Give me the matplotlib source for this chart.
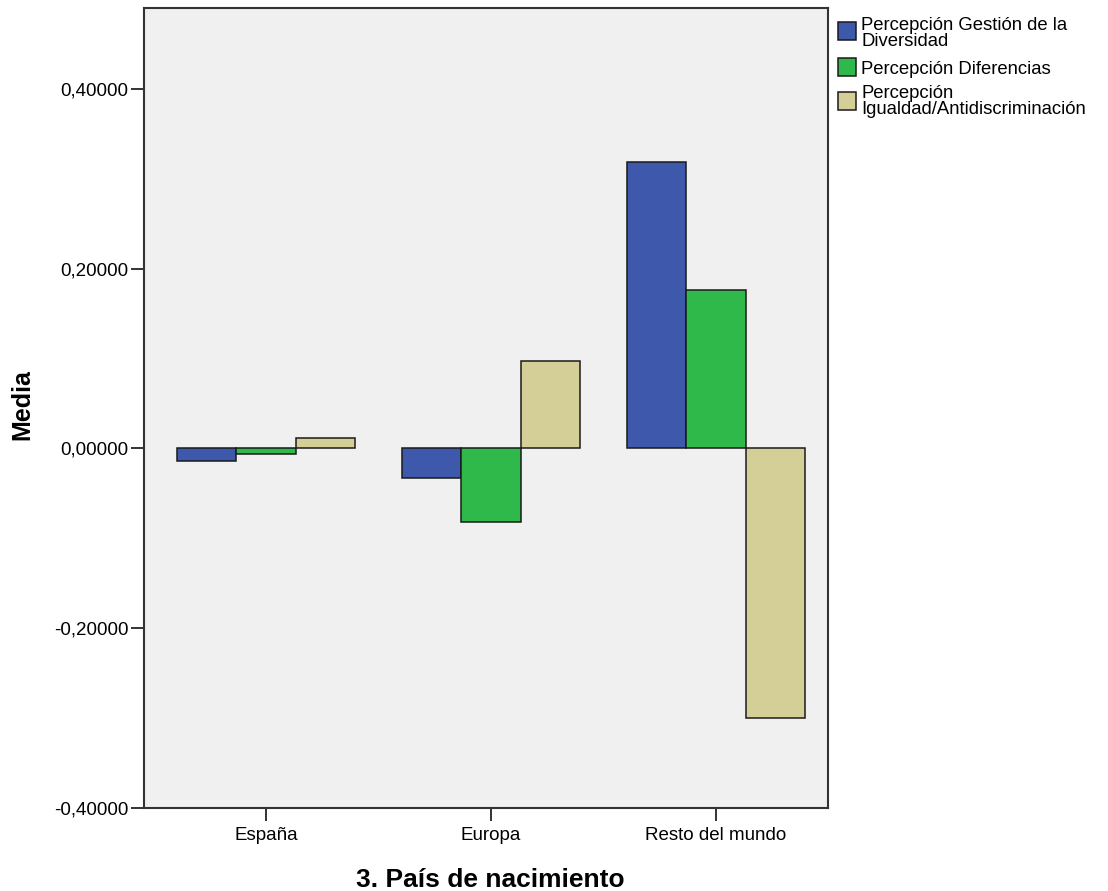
import matplotlib
matplotlib.use("Agg")
import matplotlib.pyplot as plt
from matplotlib.patches import Rectangle
import numpy as np

plt.rcParams['font.family'] = ['Liberation Sans', 'DejaVu Sans']

categories = ["España", "Europa", "Resto del mundo"]
series_names = ["Percepción Gestión de la\nDiversidad", "Percepción Diferencias",
                "Percepción\nIgualdad/Antidiscriminación"]
gestion = [-0.0145, -0.0325, 0.319]
diferencias = [-0.006, -0.082, 0.176]
igualdad = [0.012, 0.097, -0.300]
colors = ["#3e58ac", "#2fb94a", "#d4cf96"]
yticks = [-0.4, -0.2, 0.0, 0.2, 0.4]
ytick_labels = ["-0,40000", "-0,20000", "0,00000", "0,20000", "0,40000"]

W, H = 1108, 891
fig = plt.figure(figsize=(W / 100, H / 100), dpi=100)
fig.patch.set_facecolor("white")
ax = fig.add_axes([144 / W, 1 - 808 / H, (828 - 144) / W, (808 - 8) / H])
ax.set_facecolor("#f0f0f0")

x = np.arange(len(categories))
bw = 0.263
for i, vals in enumerate([gestion, diferencias, igualdad]):
    ax.bar(x + (i - 1) * bw, vals, width=bw, color=colors[i], edgecolor="#1a1a1a",
           linewidth=1.1, zorder=3)

ax.set_xlim(-0.542, 2.498)
ax.set_ylim(-0.4, 0.49)
ax.set_xticks(x)
ax.set_xticklabels(categories, fontsize=13.5)
ax.set_yticks(yticks)
ax.set_yticklabels(ytick_labels, fontsize=13.5)
ax.tick_params(axis="both", direction="out", length=9.5, width=1.4, color="#333333")
ax.tick_params(axis="x", pad=4.5)
ax.tick_params(axis="y", pad=1.5)
for s in ax.spines.values():
    s.set_linewidth(1.5)
    s.set_color("#333333")

fig.text(22 / W, 1 - 405 / H, "Media", fontsize=18, fontweight="bold",
         rotation=90, ha="center", va="center")
fig.text(490 / W, 1 - 887 / H, "3. País de nacimiento", fontsize=19,
         fontweight="bold", ha="center", va="baseline")

# legend (manual)
patch_tops = [22, 58, 92]
baselines = [[29.5, 46.5], [74], [97.5, 113.5]]
for top, lines, col, name in zip(patch_tops, baselines, colors, series_names):
    fig.patches.append(Rectangle((838 / W, 1 - (top + 17.5) / H), 18 / W, 17.5 / H,
                                 transform=fig.transFigure, facecolor=col,
                                 edgecolor="#1a1a1a", linewidth=1.1))
    for ly, txt in zip(lines, name.split("\n")):
        fig.text(861 / W, 1 - ly / H, txt, fontsize=13.3, va="baseline", ha="left")

fig.savefig("out.png", dpi=100)
